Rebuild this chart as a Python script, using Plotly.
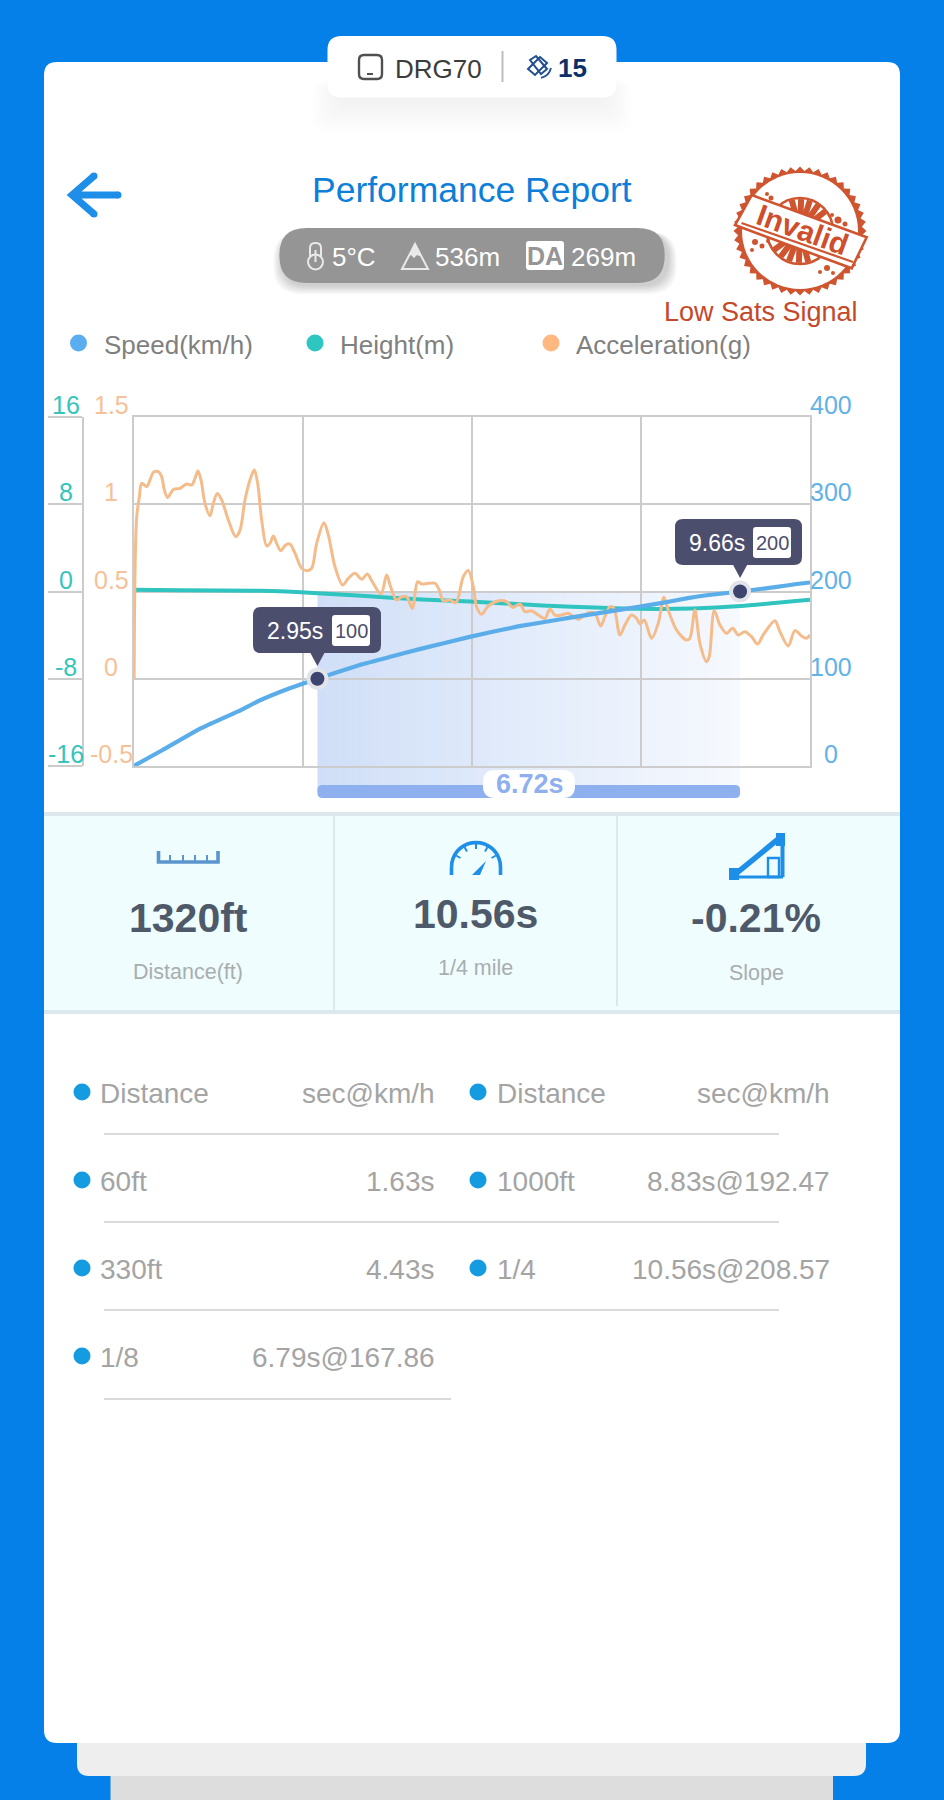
import math, re
import plotly.graph_objects as go

W, H = 944, 1800

# ---------- chart data ----------
acc_t = [0.04,0.054,0.081,0.123,0.16,0.239,0.292,0.345,0.424,0.477,0.52,0.573,0.663,0.768,0.874,0.954,1.006,1.054,1.102,1.165,1.245,1.297,1.361,1.43,1.536,1.652,1.721,1.8,1.879,1.948,2.001,2.065,2.144,2.197,2.25,2.303,2.366,2.446,2.514,2.594,2.7,2.779,2.858,2.938,3.054,3.123,3.229,3.35,3.44,3.546,3.652,3.742,3.821,3.959,4.049,4.112,4.207,4.287,4.366,4.456,4.541,4.604,4.71,4.816,4.885,4.948,5.054,5.149,5.266,5.345,5.425,5.477,5.556,5.662,5.847,5.953,6.048,6.165,6.244,6.35,6.456,6.562,6.641,6.72,6.826,6.932,7.091,7.25,7.355,7.445,7.514,7.593,7.657,7.752,7.832,7.937,8.017,8.07,8.138,8.255,8.361,8.451,8.519,8.652,8.81,8.863,8.943,9.022,9.128,9.17,9.25,9.34,9.445,9.541,9.63,9.736,9.842,9.937,10.027,10.213,10.292,10.424,10.53,10.636,10.715,10.768]
acc_g = [0.0,0.604,0.929,1.043,1.12,1.101,1.139,1.183,1.187,1.158,1.081,1.039,1.085,1.091,1.116,1.11,1.148,1.19,1.139,1.005,0.934,1.005,1.062,1.024,0.91,0.814,0.852,1.024,1.139,1.196,1.12,0.91,0.761,0.776,0.818,0.776,0.734,0.766,0.772,0.719,0.633,0.619,0.633,0.776,0.894,0.824,0.642,0.537,0.575,0.604,0.57,0.6,0.556,0.485,0.594,0.527,0.451,0.47,0.47,0.403,0.556,0.543,0.547,0.547,0.508,0.447,0.451,0.436,0.585,0.62,0.527,0.413,0.369,0.417,0.448,0.442,0.409,0.428,0.384,0.39,0.365,0.346,0.4,0.365,0.365,0.375,0.341,0.379,0.375,0.302,0.356,0.413,0.404,0.251,0.308,0.365,0.346,0.314,0.337,0.232,0.318,0.467,0.394,0.279,0.222,0.232,0.394,0.203,0.098,0.127,0.39,0.308,0.26,0.289,0.251,0.27,0.241,0.199,0.251,0.333,0.27,0.188,0.276,0.245,0.232,0.251]
speed_t = [0.033,0.492,1.066,1.735,2.022,2.5,2.95,3.647,4.125,4.603,5.368,6.133,6.79,7.089,8.045,8.427,8.83,9.096,9.66,10.243,10.56,10.77]
speed_v = [0,18.3,42,64.1,74.8,88.9,100,116.4,125.5,134.5,148,160,167.86,171.5,182.4,187,192.47,195.4,200,205.3,208.57,210.3]
height_t = [0.033,0.779,2.022,2.95,3.647,4.603,5.368,6.515,7.471,8.045,8.905,9.67,10.77]
height_m = [0.15,0.12,0.06,-0.15,-0.4,-0.73,-0.92,-1.28,-1.5,-1.59,-1.56,-1.34,-0.76]
mark_t = [2.95, 9.66]
mark_v = [100, 200]
mark_txt = ["2.95s", "9.66s"]
mark_lbl = ["100", "200"]
span_txt = "6.72s"
x_range = [0.03, 10.77]
x_grid = [2.715, 5.4, 8.085, 10.77]
speed_ticks = [0, 100, 200, 300, 400]
speed_lbls = ["0", "100", "200", "300", "400"]
acc_ticks = [-0.5, 0, 0.5, 1, 1.5]
acc_lbls = ["-0.5", "0", "0.5", "1", "1.5"]
height_ticks = [-16, -8, 0, 8, 16]
height_lbls = ["-16", "-8", "0", "8", "16"]

metric_vals = ["1320ft", "10.56s", "-0.21%"]
metric_subs = ["Distance(ft)", "1/4 mile", "Slope"]
tbl_left_names = ["Distance", "60ft", "330ft", "1/8"]
tbl_left_vals = ["sec@km/h", "1.63s", "4.43s", "6.79s@167.86"]
tbl_right_names = ["Distance", "1000ft", "1/4"]
tbl_right_vals = ["sec@km/h", "8.83s@192.47", "10.56s@208.57"]

# ---------- helpers ----------
FONT = "Liberation Sans"
BLUE_S, TEAL, ORANGE = "#5BADEA", "#2FC4BF", "#F5BC8B"
GRID = "#CCCCCC"
fx = lambda x: x / W
fy = lambda y: 1 - y / H

def P(s):
    toks = re.findall(r"[MLQCZ]|-?\d+\.?\d*", s)
    out, nums = [], []
    for tk in toks:
        if tk in "MLQCZ":
            out.append(tk)
        else:
            nums.append(float(tk))
            if len(nums) % 2 == 0:
                out.append(f"{fx(nums[-2]):.5f},{fy(nums[-1]):.5f}")
    return " ".join(out)

shapes, anns = [], []

def path(s, fill=None, line=None, lw=0, layer="below"):
    shapes.append(dict(type="path", path=P(s), xref="paper", yref="paper", layer=layer,
                       fillcolor=fill or "rgba(0,0,0,0)",
                       line=dict(color=line or "rgba(0,0,0,0)", width=lw)))

def rr(x0, y0, x1, y1, r, **k):
    path(f"M {x0+r} {y0} L {x1-r} {y0} Q {x1} {y0} {x1} {y0+r} L {x1} {y1-r} Q {x1} {y1} {x1-r} {y1} "
         f"L {x0+r} {y1} Q {x0} {y1} {x0} {y1-r} L {x0} {y0+r} Q {x0} {y0} {x0+r} {y0} Z", **k)

def circ(cx, cy, r, fill=None, line=None, lw=0, layer="below"):
    shapes.append(dict(type="circle", xref="paper", yref="paper", layer=layer,
                       x0=fx(cx-r), x1=fx(cx+r), y0=fy(cy+r), y1=fy(cy-r),
                       fillcolor=fill or "rgba(0,0,0,0)",
                       line=dict(color=line or "rgba(0,0,0,0)", width=lw)))

def seg(x0, y0, x1, y1, color, lw, layer="below"):
    path(f"M {x0} {y0} L {x1} {y1}", line=color, lw=lw, layer=layer)

def txt(x, y, t, size, color, anchor="center", bold=False, angle=0):
    anns.append(dict(x=fx(x), y=fy(y), xref="paper", yref="paper", text=f"<b>{t}</b>" if bold else t,
                     showarrow=False, xanchor=anchor, yanchor="middle", textangle=angle,
                     font=dict(family=FONT, size=size, color=color), borderpad=0, borderwidth=0))

def poly(pts, close=True):
    s = "M " + " L ".join(f"{a:.2f} {b:.2f}" for a, b in pts)
    return s + (" Z" if close else "")

# ---------- page frame ----------
rr(110.5, 1760, 833, 1815, 6, fill="#DDDDDD")
rr(77, 1700, 866, 1776, 12, fill="#EEEEEE")
rr(44, 62, 900, 1743, 13, fill="#FFFFFF")

# top pill, soft shadow on the card
for i in range(14):
    g = 36 - i * 2.6
    rr(327 + 16 - g * 0.9, 80, 617 - 16 + g * 0.9, 98 + g, 16, fill="rgba(40,60,90,0.0055)")
rr(327.5, 36, 616.5, 97.5, 14, fill="#FFFFFF")
rr(359, 55, 382, 79, 5, line="#505050", lw=2.4)
seg(367, 74, 373, 74, "#505050", 2)
txt(395, 69, "DRG70", 26, "#3C3C3C", "left")
seg(502.5, 51, 502.5, 82, "#BDBDBD", 2)
# satellite glyph
SAT = "#1F4F90"
path("M 540 57 L 547 63 L 535 75 L 528 69 Z", line=SAT, lw=2)
path("M 530 60 L 536 56 L 547 69 L 541 74 Z", line=SAT, lw=2)
path("M 541 78 Q 549 76 551 68", line=SAT, lw=1.8)
txt(558, 68, "15", 26, "#0E3069", "left", True)

# header
path("M 118 195 L 73 195 M 94 176 L 72 195 L 94 214", line="#1E8FE8", lw=7)
circ(118, 195, 3.5, fill="#1E8FE8")
circ(94, 176, 3.5, fill="#1E8FE8")
circ(94, 214, 3.5, fill="#1E8FE8")
txt(471.5, 190, "Performance Report", 35.5, "#0D7FD8")

# gray pill
for i in range(7):
    g = 9 - i * 1.3
    rr(279.4 - g + 3, 232, 664.7 + g + 3, 283 + g + 2, 27, fill="rgba(0,0,0,0.028)")
rr(279.4, 228, 664.7, 283, 27, fill="#959595")
rr(310, 243, 321, 262, 5, line="#E9E9E9", lw=2)
circ(315.5, 262, 7.5, fill="#959595", line="#E9E9E9", lw=2)
seg(315.5, 250, 315.5, 262, "#E9E9E9", 2)
txt(332, 257, "5°C", 26, "#FFFFFF", "left")
path("M 415 244 L 428 269 L 402 269 Z", line="#E9E9E9", lw=2)
path("M 415 245 L 422 257 L 417 255 L 414 258 L 411 255 L 408 257 Z", fill="#E9E9E9")
txt(435, 257, "536m", 26, "#FFFFFF", "left")
rr(526, 241, 564, 270, 3, fill="#FFFFFF")
txt(545, 256, "DA", 25, "#959595", "center", True)
txt(571, 257, "269m", 26, "#FFFFFF", "left")

# stamp
STAMP = "#CF5530"
cx0, cy0 = 800, 231
saw = []
for i in range(88):
    rad = 66.5 if i % 2 == 0 else 62
    a = 2 * math.pi * i / 88
    saw.append((cx0 + rad * math.cos(a), cy0 + rad * 0.97 * math.sin(a)))
path(poly(saw), fill=STAMP)
circ(cx0, cy0, 58, fill="#FFFFFF")
circ(cx0, cy0, 33, line=STAMP, lw=2.6)
for deg in [-125, -108, -92, -75, -58, 55, 72, 90, 107, 124]:
    a = math.radians(deg + 20)
    seg(cx0 + 17 * math.cos(a), cy0 + 17 * math.sin(a), cx0 + 32 * math.cos(a), cy0 + 32 * math.sin(a), STAMP, 6)
for bx, by, br in [(755, 242, 3), (762, 246, 2.5), (752, 250, 2), (768, 241, 2), (838, 220, 3.5), (845, 224, 2.5), (832, 215, 2),
                   (827, 268, 3), (820, 272, 2), (833, 273, 2), (771, 198, 2.5), (767, 194, 2)]:
    circ(bx, by, br, fill=STAMP)
path("M 751.7 195 L 866.7 237.3 L 851.7 268.3 L 735 225 Z", fill="#FFFFFF", line=STAMP, lw=2.6)
seg(741.5, 223, 853, 262, STAMP, 2.2)
txt(802, 230, "Invalid", 30, "#CF4F2C", "center", True, angle=20)
txt(760.5, 312, "Low Sats Signal", 27, "#C4492A")

# legend row
leg = [(78.5, 104, "Speed(km/h)", "#5AAEEF"), (315, 340, "Height(m)", "#2DC6C0"), (551, 576, "Acceleration(g)", "#FFB880")]
for dx, tx, name, col in leg:
    circ(dx, 343, 8.5, fill=col)
    txt(tx, 345, name, 26, "#808080", "left")

# selected span with stepped gradient, positioned by time values
N = 56
c0, c1 = (208, 223, 247), (246, 249, 254)
for i in range(N):
    t0 = mark_t[0] + (mark_t[1] - mark_t[0]) * i / N
    t1 = mark_t[0] + (mark_t[1] - mark_t[0]) * (i + 1) / N + 0.01
    f = i / (N - 1)
    col = "rgb(%d,%d,%d)" % tuple(round(a + (b - a) * f) for a, b in zip(c0, c1))
    shapes.append(dict(type="rect", xref="x", yref="paper", layer="below", x0=t0, x1=min(t1, mark_t[1]),
                       y0=fy(792), y1=fy(592), fillcolor=col, line=dict(width=0)))

# span bar
px = lambda t: 133.5 + (t - x_range[0]) * (810 - 133.5) / (x_range[1] - x_range[0])
bx0, bx1 = px(mark_t[0]), px(mark_t[1])
rr(bx0, 785, bx1, 798, 5, fill="#8FB0EE", layer="above")
rr(483, 770, 575, 798, 12, fill="#FFFFFF", layer="above")
txt(530, 784, span_txt, 27, "#8FB0EE", "center", True)

# callouts
boxes = [(253, 607, 381, 653, 332, 615, 370, 646, 295, 351),
         (675, 519, 802, 565, 753, 527, 791, 558, 717, 772)]
for i, (x0, y0, x1, y1, bx, by, bx2, by2, tx, lx) in enumerate(boxes):
    tipx = px(mark_t[i])
    rr(x0, y0, x1, y1, 8, fill="#4C4E6E", layer="above")
    path(f"M {tipx-7:.1f} {y1} L {tipx+7:.1f} {y1} L {tipx:.1f} {y1+13} Z", fill="#4C4E6E", layer="above")
    rr(bx, by, bx2, by2, 3, fill="#FFFFFF", layer="above")
    txt(tx, (y0 + y1) / 2 + 1, mark_txt[i], 23, "#FFFFFF")
    txt(lx, (by + by2) / 2, mark_lbl[i], 20, "#4C4E6E")

# metric band
path("M 44 812 L 900 812 L 900 1014 L 44 1014 Z", fill="#EFFDFE")
seg(44, 814, 900, 814, "#DCE8EB", 4)
seg(44, 1012, 900, 1012, "#DCE8EB", 4)
seg(334, 816, 334, 1010, "#DCE8EA", 2)
seg(617, 816, 617, 1006, "#DCE8EA", 2)
# ruler
path("M 158.5 851 L 158.5 862 L 218 862 L 218 851", line="#5B95CE", lw=3.6)
for tx_ in [170, 183, 195, 207]:
    seg(tx_, 855, tx_, 862, "#5B95CE", 2)
# gauge
arc = [(476 + 24.5 * math.cos(math.radians(a)), 867 + 24.5 * math.sin(math.radians(a))) for a in range(-180, 1, 10)]
path(poly(arc, False) + " L 500.5 875 M 451.5 867 L 451.5 875", line="#1E8FE8", lw=3.6)
for a in [-150, -120, -90, -60, -30]:
    ar = math.radians(a)
    seg(476 + 18 * math.cos(ar), 867 + 18 * math.sin(ar), 476 + 23 * math.cos(ar), 867 + 23 * math.sin(ar), "#1E8FE8", 2)
path("M 486 861 L 480 875 L 472 875 Z", fill="#1E8FE8")
# slope
path("M 732 877 L 782 836", line="#1E8FE8", lw=5.5)
path("M 732 877 L 783 877", line="#1E8FE8", lw=3)
path("M 782.5 836 L 782.5 877", line="#1E8FE8", lw=4)
path("M 729 868 L 739 868 L 739 880 L 729 880 Z", fill="#1E8FE8")
path("M 776 833 L 785 833 L 785 846 L 776 846 Z", fill="#1E8FE8")
path("M 768 858 L 779 858 L 779 877 L 768 877 Z", line="#1E8FE8", lw=2.4)

centers = [188, 475, 756]
mv_y = [918, 914, 918]
ms_y = [972, 968, 973]
for i in range(3):
    txt(centers[i], mv_y[i], metric_vals[i], 41, "#4E5A6A", "center", True)
    txt(centers[i], ms_y[i], metric_subs[i], 21.5, "#A9ADB0")

# table
rows_y = [1093, 1181, 1269, 1357]
lines_y = [1134, 1222, 1310, 1399]
TC = "#A4A4A4"
for i, (n, v) in enumerate(zip(tbl_left_names, tbl_left_vals)):
    circ(82, rows_y[i] - 1, 8.5, fill="#149BE0")
    txt(100, rows_y[i], n, 28, TC, "left")
    txt(435, rows_y[i], v, 28, TC, "right")
for i, (n, v) in enumerate(zip(tbl_right_names, tbl_right_vals)):
    circ(478, rows_y[i] - 1, 8.5, fill="#149BE0")
    txt(497, rows_y[i], n, 28, TC, "left")
    txt(830, rows_y[i], v, 28, TC, "right")
for i, ly in enumerate(lines_y):
    seg(104, ly, 779 if i < 3 else 451, ly, "#DADADA", 2)

# axis value labels, placed by the axes' own scales
for v, l in zip(height_ticks, height_lbls):
    anns.append(dict(x=fx(66), y=v, xref="paper", yref="y", yshift=12, text=l, showarrow=False,
                     xanchor="center", yanchor="middle", font=dict(family=FONT, size=25, color="#37C4BC")))
for v, l in zip(acc_ticks, acc_lbls):
    anns.append(dict(x=fx(111), y=v, xref="paper", yref="y2", yshift=12, text=l, showarrow=False,
                     xanchor="center", yanchor="middle", font=dict(family=FONT, size=25, color="#F6C196")))
for v, l in zip(speed_ticks, speed_lbls):
    anns.append(dict(x=fx(831), y=v, xref="paper", yref="y3", yshift=12, text=l, showarrow=False,
                     xanchor="center", yanchor="middle", font=dict(family=FONT, size=25, color="#62B2E6")))

# ---------- figure ----------
fig = go.Figure()
fig.add_trace(go.Scatter(x=height_t, y=height_m, name="Height(m)", mode="lines", yaxis="y",
                         line=dict(color=TEAL, width=4, shape="spline", smoothing=0.6)))
fig.add_trace(go.Scatter(x=acc_t, y=acc_g, name="Acceleration(g)", mode="lines", yaxis="y2",
                         line=dict(color=ORANGE, width=3, shape="spline", smoothing=0.9)))
fig.add_trace(go.Scatter(x=speed_t, y=speed_v, name="Speed(km/h)", mode="lines", yaxis="y3",
                         line=dict(color=BLUE_S, width=4.2, shape="spline", smoothing=0.3)))
fig.add_trace(go.Scatter(x=mark_t, y=mark_v, mode="markers", yaxis="y3", showlegend=False,
                         marker=dict(size=22, color="#E2E4EA")))
fig.add_trace(go.Scatter(x=mark_t, y=mark_v, mode="markers", yaxis="y3", showlegend=False,
                         marker=dict(size=14, color="#3E4470")))

ydom = [fy(766), fy(417)]
fig.update_layout(
    width=W, height=H, autosize=False, margin=dict(l=0, r=0, t=0, b=0),
    paper_bgcolor="#0480E8", plot_bgcolor="rgba(0,0,0,0)", showlegend=False,
    font=dict(family=FONT), shapes=shapes, annotations=anns,
    xaxis=dict(domain=[fx(133.5), fx(810)], range=x_range, tickmode="array", tickvals=x_grid,
               showticklabels=False, ticks="", showgrid=True, gridcolor=GRID, gridwidth=2,
               showline=True, linecolor=GRID, linewidth=2, mirror=True, zeroline=False),
    yaxis=dict(domain=ydom, range=[-16, 16], tickmode="array", tickvals=height_ticks, anchor="free",
               position=fx(82.5), side="left", showticklabels=False, ticks="outside", ticklen=34, tickwidth=2,
               tickcolor=GRID, showline=True, linecolor=GRID, linewidth=2, showgrid=True, gridcolor=GRID,
               gridwidth=2, zeroline=False),
    yaxis2=dict(domain=ydom, range=[-0.5, 1.5], overlaying="y", anchor="x", side="left", tickmode="array",
                tickvals=acc_ticks, showticklabels=False, ticks="", showgrid=False, showline=True,
                linecolor=GRID, linewidth=2, zeroline=False),
    yaxis3=dict(domain=ydom, range=[0, 400], overlaying="y", anchor="x", side="right", tickmode="array",
                tickvals=speed_ticks, showticklabels=False, ticks="", showgrid=False, showline=True,
                linecolor=GRID, linewidth=2, zeroline=False),
)
fig.write_html("out.html", config=dict(displayModeBar=False),
               post_script="document.body.style.margin='0';document.documentElement.style.overflow='hidden';")
